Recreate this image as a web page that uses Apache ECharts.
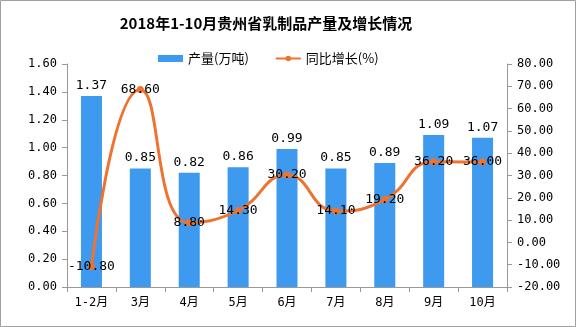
<!DOCTYPE html>
<html>
<head>
<meta charset="utf-8">
<script src="https://cdn.jsdelivr.net/npm/echarts@6/dist/echarts.min.js"></script>
<style>
html,body{margin:0;padding:0;background:#fff;}
#chart{width:576px;height:327px;}
</style>
</head>
<body>
<div id="chart"></div>
<script>
// 2018年1-10月贵州省乳制品产量及增长情况
var months = ['1-2月', '3月', '4月', '5月', '6月', '7月', '8月', '9月', '10月'];
var output = [1.37, 0.85, 0.82, 0.86, 0.99, 0.85, 0.89, 1.09, 1.07];
var growth = [-10.80, 68.60, 8.80, 14.30, 30.20, 14.10, 19.20, 36.20, 36.00];

var FONT = '"Noto Sans CJK SC", "DejaVu Sans", sans-serif';
var NUM_FONT = '"DejaVu Sans Mono", "Noto Sans CJK SC", monospace';
var chart = echarts.init(document.getElementById('chart'));

function fixed2(v) { return Number(v).toFixed(2); }

chart.setOption({
  backgroundColor: '#fff',
  animation: false,
  textStyle: { fontFamily: FONT },
  title: {
    text: '2018年1-10月贵州省乳制品产量及增长情况',
    left: 261,
    textAlign: 'center',
    top: 11,
    textStyle: { fontSize: 15, fontWeight: 'bold', color: '#000', fontFamily: FONT }
  },
  graphic: [{
    type: 'rect',
    shape: { x: 0.5, y: 0.5, width: 575, height: 326 },
    style: { fill: 'none', stroke: '#a0a0a0', lineWidth: 1 },
    silent: true
  }],
  legend: {
    left: 153,
    top: 47,
    itemGap: 26,
    itemWidth: 25,
    itemHeight: 7,
    textStyle: { fontSize: 13, color: '#000', fontFamily: FONT },
    data: [
      { name: '产量(万吨)', icon: 'rect' },
      { name: '同比增长(%)' }
    ]
  },
  grid: { left: 67, right: 69, top: 64, bottom: 40 },
  xAxis: {
    type: 'category',
    data: months,
    axisLine: { lineStyle: { color: '#999' } },
    axisTick: { show: true, length: 5, lineStyle: { color: '#999' } },
    axisLabel: { color: '#000', fontSize: 12, margin: 10, fontFamily: NUM_FONT }
  },
  yAxis: [{
    type: 'value',
    min: 0,
    max: 1.6,
    interval: 0.2,
    axisLine: { show: true, lineStyle: { color: '#999' } },
    axisTick: { show: true, length: 5, lineStyle: { color: '#999' } },
    splitLine: { show: false },
    axisLabel: { color: '#000', fontSize: 12, margin: 10, fontFamily: NUM_FONT, formatter: fixed2 }
  }, {
    type: 'value',
    min: -20,
    max: 80,
    interval: 10,
    position: 'right',
    axisLine: { show: true, lineStyle: { color: '#999' } },
    axisTick: { show: true, length: 5, lineStyle: { color: '#999' } },
    splitLine: { show: false },
    axisLabel: { color: '#000', fontSize: 12, margin: 10, fontFamily: NUM_FONT, formatter: fixed2 }
  }],
  series: [{
    name: '产量(万吨)',
    type: 'bar',
    data: output,
    barWidth: '43%',
    itemStyle: { color: '#3D9AEF' },
    label: {
      show: true,
      position: 'top',
      distance: 4,
      color: '#000',
      fontSize: 13,
      fontFamily: NUM_FONT,
      formatter: function (p) { return fixed2(p.value); }
    }
  }, {
    name: '同比增长(%)',
    type: 'line',
    yAxisIndex: 1,
    data: growth,
    smooth: 0.5,
    symbol: 'circle',
    symbolSize: 7,
    lineStyle: { color: '#EE7230', width: 3 },
    itemStyle: { color: '#EE7230' },
    label: {
      show: true,
      position: 'inside',
      color: '#000',
      fontSize: 13,
      fontFamily: NUM_FONT,
      formatter: function (p) { return fixed2(p.value); }
    },
    z: 3
  }]
});
</script>
</body>
</html>
